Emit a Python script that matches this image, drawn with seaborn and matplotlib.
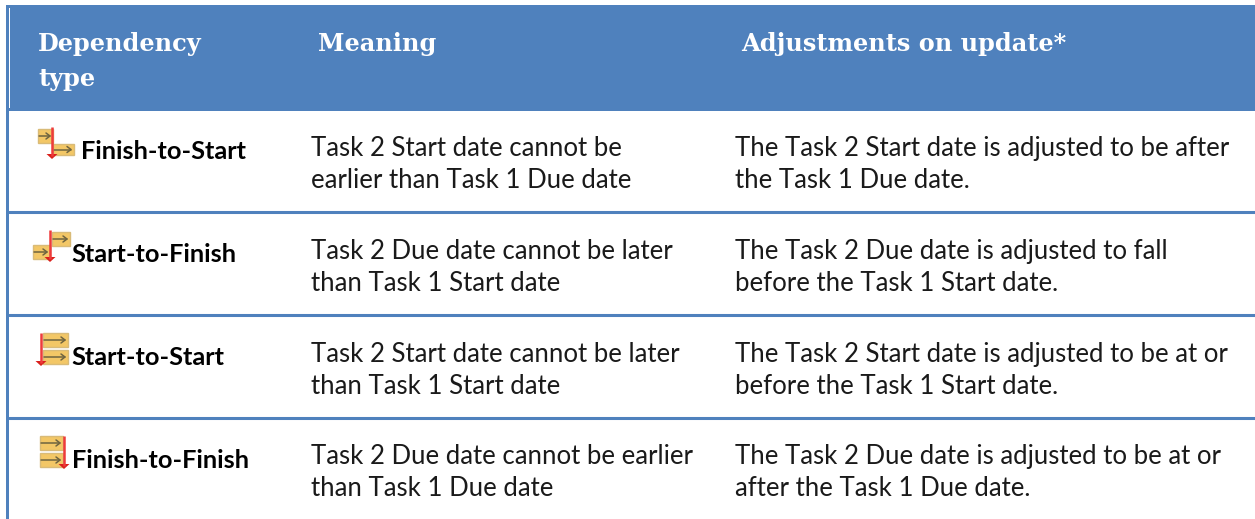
import seaborn as sns
import matplotlib.pyplot as plt
import pandas as pd
from matplotlib.patches import Rectangle, Polygon

header_labels = ['Dependency\ntype', 'Meaning', 'Adjustments on update*']
dep_types = ['Finish-to-Start', 'Start-to-Finish', 'Start-to-Start', 'Finish-to-Finish']
meanings = [
    'Task 2 Start date cannot be\nearlier than Task 1 Due date',
    'Task 2 Due date cannot be later\nthan Task 1 Start date',
    'Task 2 Start date cannot be later\nthan Task 1 Start date',
    'Task 2 Due date cannot be earlier\nthan Task 1 Due date',
]
adjustments = [
    'The Task 2 Start date is adjusted to be after\nthe Task 1 Due date.',
    'The Task 2 Due date is adjusted to fall\nbefore the Task 1 Start date.',
    'The Task 2 Start date is adjusted to be at or\nbefore the Task 1 Start date.',
    'The Task 2 Due date is adjusted to be at or\nafter the Task 1 Due date.',
]

BLUE = '#4f81bd'

sns.set_theme(style='white')
plt.rcParams['font.family'] = ['Lato', 'DejaVu Sans']

fig = plt.figure(figsize=(12.55, 5.19), dpi=100)
ax = fig.add_axes([0, 0, 1, 1])
# pixel coordinates, y going down like the picture
ax.set_xlim(0, 1255)
ax.set_ylim(519, 0)
ax.axis('off')

# header band + left border
ax.add_patch(Rectangle((6, 5), 1249, 106, color=BLUE, lw=0))
ax.add_patch(Rectangle((6, 5), 3, 514, color=BLUE, lw=0))
ax.add_patch(Rectangle((9, 8), 1, 100, color='white', lw=0))

# row rules
rules = pd.DataFrame({
    'x': [9, 1255] * 3,
    'y': [212, 212, 315, 315, 418, 418],
    'rule': [0, 0, 1, 1, 2, 2],
})
sns.lineplot(data=rules, x='x', y='y', units='rule', estimator=None,
             color=BLUE, lw=2.2, ax=ax, legend=False)
ax.set_xlim(0, 1255)
ax.set_ylim(519, 0)
ax.axis('off')

# header text
head = dict(family='DejaVu Serif', weight='bold', color='white', fontsize=17.3, va='baseline')
ax.text(38, 51, header_labels[0].split('\n')[0], **head)
ax.text(38, 86, header_labels[0].split('\n')[1], **head)
ax.text(318, 51, header_labels[1], **head)
ax.text(741, 51, header_labels[2], **head)


def bar(x0, x1, y0, y1):
    ax.add_patch(Rectangle((x0, y0), x1 - x0, y1 - y0, fc='#f3c766', ec='#d9bb78', lw=1))
    ym = (y0 + y1) / 2
    ax.plot([x0 + 1, x1 - 3], [ym, ym], color='#6f6440', lw=1.1)
    ax.plot([x1 - 7, x1 - 3, x1 - 7], [ym - 3, ym, ym + 3], color='#6f6440', lw=1.1)


def red(x, y0, y1, hw=5.5):
    ax.plot([x, x], [y0, y1 - 3], color='#ee3b3b', lw=1.8, solid_capstyle='butt')
    ax.add_patch(Polygon([(x - hw, y1 - 5), (x + hw, y1 - 5), (x, y1)], color='#d9201c', lw=0))


# icons
bar(38, 53, 129, 143)
bar(53, 74, 144, 155)
red(52, 127, 159)

bar(52, 70, 232, 246)
bar(33, 50, 245, 259)
red(50, 230, 262)

bar(43, 68, 333, 347)
bar(43, 68, 350, 364)
red(41, 333, 366)

bar(40, 63, 436, 450)
bar(40, 63, 453, 467)
red(64, 436, 469)

# body rows
type_x = [81, 71.5, 71.5, 71.5]
type_y = [159, 262, 365, 468]
line1_y = [156, 259, 362, 464]
for i in range(4):
    ax.text(type_x[i], type_y[i], dep_types[i], weight='bold', color='black',
            fontsize=18.3, va='baseline')
    for x, txt in ((311, meanings[i]), (735, adjustments[i])):
        first, second = txt.split('\n')
        ax.text(x, line1_y[i], first, color='#1a1a1a', fontsize=18.5, va='baseline')
        ax.text(x, line1_y[i] + 32, second, color='#1a1a1a', fontsize=18.5, va='baseline')

fig.savefig('out.png', dpi=100)
